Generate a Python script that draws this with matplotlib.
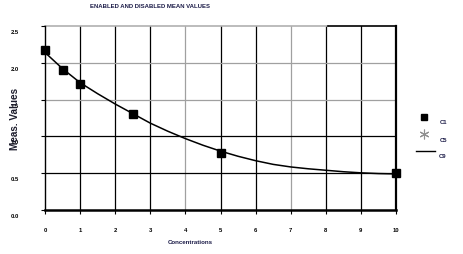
import matplotlib
matplotlib.use("Agg")
import matplotlib.pyplot as plt
from matplotlib.transforms import ScaledTranslation

plt.rcParams['font.family'] = ['Liberation Sans', 'DejaVu Sans']

# measured points (C1)
conc = [0.0, 0.5, 1.0, 2.5, 5.0, 10.0]
meas = [2.17, 1.90, 1.71, 1.30, 0.77, 0.50]

# fitted curve (C9)
curve_x = [0.0, 0.5, 1.0, 1.5, 2.0, 2.5, 3.0, 3.5, 4.0, 4.5, 5.0, 5.5, 6.0, 6.5, 7.0, 7.5, 8.0, 8.5, 9.0, 9.5, 10.0]
curve_y = [2.14, 1.92, 1.73, 1.58, 1.44, 1.31, 1.18, 1.07, 0.97, 0.88, 0.80, 0.73, 0.67, 0.62, 0.585, 0.56, 0.54, 0.52, 0.505, 0.495, 0.49]

xticks = list(range(0, 11))
yticks = [0.0, 0.5, 1.0, 1.5, 2.0, 2.5]
ylabels = ['0.0', '0.5', '1.0', '1.5', '2.0', '2.5']
gray_x = [4, 7]
gray_y = [1.5, 2.0]

fig = plt.figure(figsize=(4.63, 2.55), dpi=100)
ax = fig.add_axes([45/463, 44/255, 351/463, 184/255])
ax.set_xlim(0, 10)
ax.set_ylim(0, 2.5)

# grid
for x in xticks[1:-1]:
    ax.axvline(x, color='#a0a0a0' if x in gray_x else 'black', lw=0.9, zorder=1)
for y in yticks[1:-1]:
    ax.axhline(y, color='#a0a0a0' if y in gray_y else 'black', lw=0.9, zorder=1)
ax.plot([0, 8.07], [2.5, 2.5], color='#b0b0b0', lw=1.2, clip_on=False, zorder=1)
ax.plot([8.07, 10], [2.5, 2.5], color='black', lw=1.2, clip_on=False, zorder=1)

ax.plot(curve_x, curve_y, color='black', lw=1.1, zorder=3)
ax.plot(conc, meas, 's', color='black', ms=5.5, zorder=4, clip_on=False)

ax.spines['top'].set_visible(False)
ax.spines['left'].set_linewidth(1.0)
ax.spines['right'].set_linewidth(1.6)
ax.spines['bottom'].set_linewidth(1.8)

ax.set_xticks(xticks)
ax.set_xticklabels([str(x) for x in xticks])
ax.set_yticks(yticks)
ax.set_yticklabels(ylabels)
ax.tick_params(axis='x', length=3, width=0.8, pad=9.5, labelsize=4.2)
ax.tick_params(axis='y', length=3, width=0.8, pad=19, labelsize=4.2)
for lab in ax.get_xticklabels() + ax.get_yticklabels():
    lab.set_fontweight('bold')
for lab in ax.get_yticklabels():
    lab.set_ha('center')
    lab.set_transform(lab.get_transform() + ScaledTranslation(0, -5/100, fig.dpi_scale_trans))

fig.text(150/463, 1 - 7/255, 'ENABLED AND DISABLED MEAN VALUES', ha='center', va='center',
         fontsize=4.3, fontweight='bold', color='#1c1c48')
fig.text(190/463, 1 - 243/255, 'Concentrations', ha='center', va='center',
         fontsize=4.4, fontweight='bold', color='#1c1c48')
fig.text(15/463, 1 - 119/255, 'Meas. Values', ha='center', va='center', rotation=90,
         fontsize=7.2, fontweight='bold', color='#1c1c2c')

# legend on the right
fig.lines.append(plt.Line2D([424/463], [1 - 118/255], marker='s', color='black', ms=5,
                            transform=fig.transFigure))
fig.lines.append(plt.Line2D([424/463], [1 - 135/255], marker=(6, 2, 0), color='#909090', ms=7,
                            lw=0, mew=0.8, transform=fig.transFigure))
fig.lines.append(plt.Line2D([416/463, 435/463], [1 - 152/255, 1 - 152/255], color='black', lw=1.0,
                            transform=fig.transFigure))
for lbl, yy in [('C1', 123), ('C5', 140), ('C9', 157)]:
    fig.text(443/463, 1 - yy/255, lbl, ha='center', va='center', fontsize=4.2,
             fontweight='bold', color='#1c1c48')

fig.savefig('out.png', dpi=100)
